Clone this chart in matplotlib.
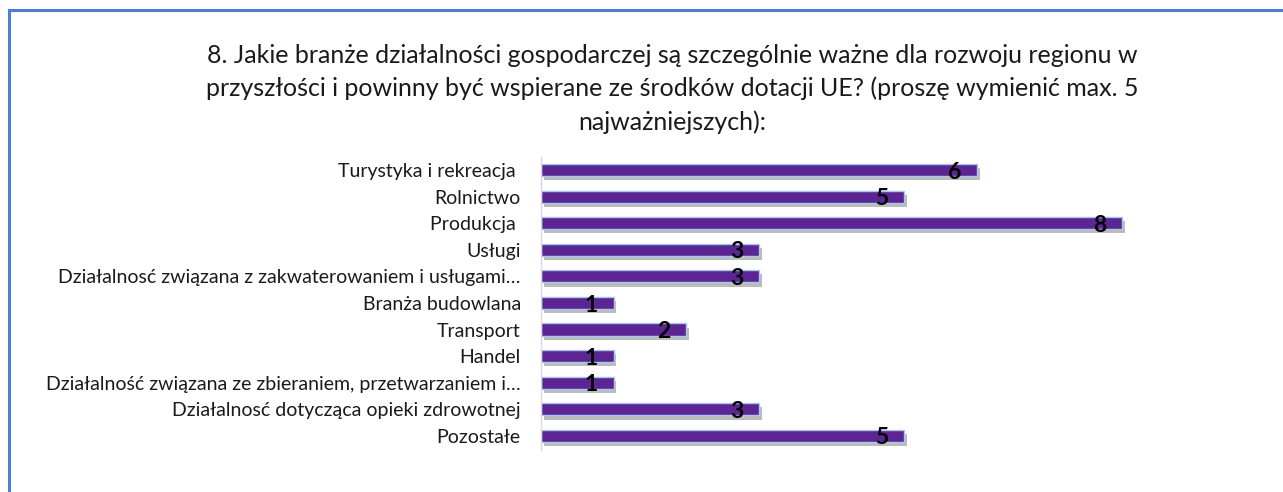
import matplotlib.pyplot as plt
import matplotlib.patheffects as pe
from matplotlib.lines import Line2D

# data
categories = [
    'Turystyka i rekreacja ',
    'Rolnictwo',
    'Produkcja ',
    'Usługi',
    'Działalnosć związana z zakwaterowaniem i usługami…',
    'Branża budowlana',
    'Transport',
    'Handel',
    'Działalność związana ze zbieraniem, przetwarzaniem i…',
    'Działalnosć dotycząca opieki zdrowotnej',
    'Pozostałe',
]
values = [6, 5, 8, 3, 3, 1, 2, 1, 1, 3, 5]

title_lines = [
    '8. Jakie branże działalności gospodarczej są szczególnie ważne dla rozwoju regionu w',
    'przyszłości i powinny być wspierane ze środków dotacji UE? (proszę wymienić max. 5',
    'najważniejszych):',
]

plt.rcParams['font.family'] = ['Lato', 'DejaVu Sans']

W, H = 1283, 492
fig = plt.figure(figsize=(W / 100, H / 100), dpi=100)

# blue frame (only top and left edges are visible)
fig.add_artist(Line2D([9 / W, 9 / W], [0, 1 - 10 / H], color='#4a7fd8', lw=2.2))
fig.add_artist(Line2D([9 / W, 1], [1 - 10 / H, 1 - 10 / H], color='#4a7fd8', lw=2.2))

# title, one line at a time
for i, line in enumerate(title_lines):
    fig.text(672 / W, 1 - (63 + 33.5 * i) / H, line, ha='center', va='baseline',
             fontsize=18, color='#1a1a1a')

top, bottom = 157, 450
ax = fig.add_axes([541 / W, 1 - bottom / H, (1122 - 541) / W * 9 / 8, (bottom - top) / H])
ax.set_xlim(0, 9)

y = list(range(len(categories)))
ax.barh(y, values, height=0.46, color='#5b2694', edgecolor='#a9c6ec', linewidth=1.0,
        path_effects=[pe.SimplePatchShadow(offset=(2, -3), shadow_rgbFace='#555555', alpha=0.4),
                      pe.Normal()])
ax.set_ylim(len(categories) - 0.47, -0.49)

for yi, v in zip(y, values):
    ax.annotate(str(v), xy=(v, yi), xytext=(-16, -1.5), textcoords='offset points',
                ha='center', va='center', fontsize=16.5, fontweight='bold', color='black')

ax.set_yticks(y)
ax.set_yticklabels(categories, fontsize=14, color='#1a1a1a')
ax.tick_params(axis='y', length=0, pad=14.5)
ax.set_xticks([])
for s in ['top', 'right', 'bottom']:
    ax.spines[s].set_visible(False)
ax.spines['left'].set_color('#d9d9d9')
ax.spines['left'].set_linewidth(1.0)

fig.savefig('out.png', dpi=100)
